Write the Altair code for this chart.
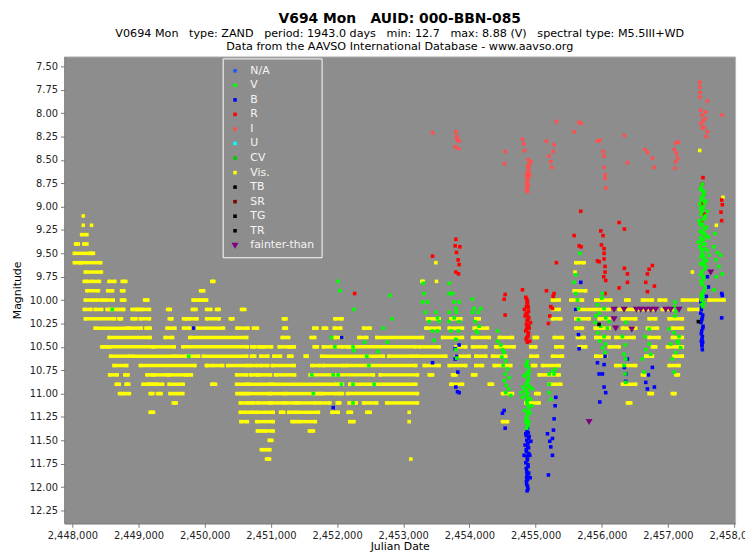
import altair as alt
import pandas as pd

NB = "\u00a0"

BANDS = ["N/A", "V", "B", "R", "I", "U", "CV", "Vis.", "TB", "SR", "TG", "TR", "fainter-than"]
COLORS = ["#2255ff", "#00ff00", "#0000ff", "#ff0000", "#ff5050", "#00ffff", "#00cc00",
          "#ffff00", "#000000", "#800000", "#000000", "#000000", "#800080"]
SQUARE = "M-0.9,-0.9H0.9V0.9H-0.9Z"
TRIANGLE_DOWN = "M-1.8,-1.3L1.8,-1.3L0,1.7Z"
SHAPES = [SQUARE] * 12 + [TRIANGLE_DOWN]

X_TICKS = [2448000, 2449000, 2450000, 2451000, 2452000, 2453000, 2454000,
           2455000, 2456000, 2457000, 2458000]
Y_TICKS = [7.50, 7.75, 8.00, 8.25, 8.50, 8.75, 9.00, 9.25, 9.50, 9.75, 10.00, 10.25,
           10.50, 10.75, 11.00, 11.25, 11.50, 11.75, 12.00, 12.25]

# Visual estimates: runs of consecutive observations (start JD, end JD) per magnitude
VIS_ROWS = [
    (8.4, [(2457480, 2457480)]),
    (8.9, [(2457832, 2457832)]),
    (9.1, [(2448165, 2448165)]),
    (9.2, [(2448165, 2448165), (2448290, 2448290), (2457732, 2457732)]),
    (9.3, [(2448140, 2448220)]),
    (9.4, [(2448050, 2448090), (2448175, 2448220)]),
    (9.5, [(2448030, 2448270), (2448280, 2448319)]),
    (9.6, [(2448030, 2448115), (2448135, 2448429), (2453493, 2453493), (2455607, 2455733)]),
    (9.7, [(2448195, 2448439), (2455597, 2455597), (2457369, 2457369)]),
    (9.8, [(2448180, 2448240), (2448294, 2448409), (2448553, 2448643), (2448753, 2448808),
           (2450108, 2450138), (2453282, 2453302), (2453503, 2453503)]),
    (9.9, [(2448220, 2448394), (2448534, 2448608), (2448743, 2448778), (2449939, 2449984),
           (2455582, 2455758)]),
    (10.0, [(2448195, 2448309), (2448354, 2448459), (2448494, 2448618), (2448743, 2448793),
            (2449092, 2449141), (2449824, 2449864), (2449899, 2449959), (2449989, 2450029),
            (2455255, 2455356), (2455532, 2455708), (2455909, 2456136), (2456362, 2456413),
            (2456614, 2456765), (2456866, 2456966), (2457218, 2457445), (2457621, 2457847)]),
    (10.1, [(2448180, 2448280), (2448344, 2448444), (2448524, 2448578), (2448603, 2448688),
            (2448733, 2448778), (2448902, 2448967), (2448982, 2449027), (2449052, 2449166),
            (2449440, 2449480), (2449814, 2449869), (2450029, 2450093), (2450178, 2450218),
            (2450557, 2450606), (2455255, 2455356), (2455607, 2456111), (2456262, 2456564),
            (2456624, 2456815), (2456916, 2457067), (2457319, 2457470)]),
    (10.2, [(2448195, 2448638), (2448703, 2448743), (2448902, 2448962), (2449027, 2449166),
            (2449465, 2449505), (2449680, 2449734), (2449764, 2449884), (2450029, 2450218),
            (2450387, 2450427), (2451189, 2451229), (2451967, 2452076), (2453367, 2453543),
            (2453720, 2453871), (2454097, 2454148), (2455255, 2455381), (2455607, 2455809),
            (2455960, 2456111), (2456312, 2456513), (2456715, 2456815), (2457017, 2457218)]),
    (10.3, [(2448344, 2448828), (2448862, 2449042), (2449112, 2449176), (2449431, 2449550),
            (2449680, 2449774), (2449874, 2450283), (2450487, 2450656), (2450736, 2450796),
            (2451194, 2451234), (2451648, 2451698), (2451792, 2451842), (2451957, 2452056),
            (2452400, 2452500), (2453342, 2453543), (2453694, 2453896), (2454072, 2454273),
            (2455607, 2455708), (2455899, 2456111), (2456312, 2456513), (2456690, 2456841),
            (2457067, 2457218)]),
    (10.4, [(2448553, 2449176), (2449401, 2449515), (2449774, 2450636), (2451170, 2451269),
            (2451608, 2451663), (2451967, 2452081), (2452330, 2452450), (2452600, 2453292),
            (2453594, 2453896), (2454047, 2454299), (2454450, 2454651), (2454978, 2455028),
            (2455280, 2455406), (2455632, 2455733), (2455909, 2456111), (2456211, 2456488),
            (2456715, 2456866), (2457067, 2457218)]),
    (10.5, [(2448444, 2448479), (2448514, 2448543), (2448563, 2449216), (2449231, 2449540),
            (2449670, 2450646), (2450711, 2450761), (2450816, 2450871), (2450895, 2451010),
            (2451125, 2451279), (2451294, 2451354), (2451653, 2451703), (2451792, 2452091),
            (2452141, 2452191), (2452216, 2453191), (2453241, 2453543), (2453794, 2453946),
            (2454047, 2454248), (2454399, 2454676), (2454928, 2455003), (2455305, 2455406),
            (2455658, 2455758), (2456111, 2456262), (2456765, 2456815), (2456992, 2457218)]),
    (10.6, [(2448578, 2448867), (2448912, 2449540), (2449580, 2449725), (2449759, 2449909),
            (2449979, 2450636), (2450706, 2450756), (2450846, 2450955), (2451045, 2451145),
            (2451269, 2451319), (2451518, 2451548), (2451767, 2452700), (2452780, 2453141),
            (2453191, 2453644), (2453795, 2453996), (2454097, 2454248), (2454349, 2454550),
            (2454928, 2455028), (2455255, 2455406), (2455909, 2456060), (2456665, 2456765),
            (2457092, 2457218)]),
    (10.7, [(2448628, 2448823), (2449027, 2449854), (2450024, 2450058), (2450108, 2450273),
            (2450347, 2450646), (2450686, 2450796), (2450846, 2450955), (2451020, 2451354),
            (2451618, 2451743), (2451792, 2452101), (2452141, 2453191), (2453317, 2453543),
            (2453694, 2453946), (2454097, 2454198), (2454374, 2454626), (2454953, 2455003),
            (2455104, 2455356), (2456211, 2456513), (2457017, 2457168)]),
    (10.8, [(2448563, 2448678), (2448793, 2448842), (2449126, 2449211), (2449236, 2449440),
            (2449465, 2449715), (2449734, 2449799), (2450482, 2450636), (2450696, 2450796),
            (2450821, 2450995), (2451070, 2451359), (2451593, 2452550), (2452650, 2453216),
            (2453392, 2453443), (2453745, 2453795), (2454047, 2454097), (2455053, 2455356),
            (2456614, 2456665), (2457118, 2457158)]),
    (10.9, [(2448663, 2448708), (2448813, 2448852), (2449067, 2449141), (2449151, 2449191),
            (2449211, 2449261), (2449276, 2449366), (2449460, 2449675), (2450108, 2450163),
            (2450482, 2450636), (2450666, 2450995), (2451025, 2451992), (2452032, 2452081),
            (2452191, 2453191), (2453720, 2453896), (2454299, 2454349), (2455205, 2455381),
            (2456312, 2456513)]),
    (11.0, [(2448713, 2448753), (2448788, 2448862), (2449176, 2449216), (2449286, 2449341),
            (2449475, 2449555), (2449600, 2449670), (2450487, 2450547), (2450577, 2450636),
            (2450661, 2450970), (2450995, 2451194), (2451229, 2451668), (2451698, 2451743),
            (2451772, 2451992), (2452032, 2452081), (2452156, 2453216), (2454500, 2454651),
            (2455003, 2455053), (2456715, 2456765), (2457067, 2457107)]),
    (11.1, [(2449525, 2449570), (2450537, 2450646), (2450686, 2450746), (2450796, 2450985),
            (2451005, 2451194), (2451224, 2451379), (2451409, 2451683), (2451733, 2451892),
            (2452002, 2452042), (2452181, 2452291), (2452400, 2452600), (2452750, 2453216),
            (2454852, 2455053), (2456388, 2456438)]),
    (11.2, [(2449176, 2449226), (2450537, 2450626), (2450676, 2450736), (2450786, 2451035),
            (2451145, 2451194), (2451269, 2451354), (2451404, 2451718), (2451922, 2452017),
            (2452166, 2452216), (2452450, 2452500), (2453090, 2453090)]),
    (11.3, [(2450547, 2450646), (2450786, 2451035), (2451319, 2451369), (2451419, 2451673),
            (2452191, 2452256), (2453090, 2453090), (2454500, 2454575)]),
    (11.4, [(2450796, 2450876), (2450910, 2451035), (2451583, 2451643)]),
    (11.5, [(2450975, 2451015)]),
    (11.6, [(2450856, 2450905), (2450935, 2450985)]),
    (11.7, [(2450935, 2450980), (2453115, 2453115)]),
]

I_POINTS = [
    (2453443, 8.21), (2453795, 8.20), (2453805, 8.25), (2453820, 8.29), (2453845, 8.30),
    (2453785, 8.36), (2453835, 8.38), (2453810, 8.27),
    (2454540, 8.41), (2454530, 8.54), (2454802, 8.28), (2454822, 8.33), (2454832, 8.40),
    (2454928, 8.52), (2454903, 8.55), (2454893, 8.60), (2454878, 8.64), (2454862, 8.67),
    (2454883, 8.71), (2454867, 8.75), (2454878, 8.78), (2454862, 8.82), (2454898, 8.59),
    (2454913, 8.66), (2454872, 8.69), (2454888, 8.62), (2454870, 8.80),
    (2454890, 8.50), (2454880, 8.57), (2454895, 8.68), (2454875, 8.73), (2454890, 8.77),
    (2454880, 8.84),
    (2455164, 8.30), (2455280, 8.34), (2455265, 8.41), (2455205, 8.46), (2455230, 8.52),
    (2455245, 8.58), (2455315, 8.09),
    (2455582, 8.20), (2455658, 8.10), (2455688, 8.11),
    (2455935, 8.30), (2455970, 8.29), (2456020, 8.41), (2456035, 8.46), (2456035, 8.58),
    (2456050, 8.66), (2456050, 8.70), (2456060, 8.80),
    (2456342, 8.24), (2456388, 8.53),
    (2456654, 8.39), (2456690, 8.42), (2456765, 8.48), (2456795, 8.58),
    (2457097, 8.39), (2457117, 8.32), (2457158, 8.31), (2457143, 8.48), (2457117, 8.52),
    (2457107, 8.59), (2457128, 8.43),
    (2457480, 7.67), (2457480, 7.72), (2457485, 7.78), (2457480, 7.83), (2457596, 7.87),
    (2457495, 7.97), (2457510, 8.02), (2457530, 8.08), (2457500, 8.11), (2457545, 8.15),
    (2457570, 7.99), (2457596, 8.20), (2457580, 8.25), (2457520, 8.16), (2457560, 8.06),
    (2457812, 8.02),
]

R_POINTS = [
    (2452266, 9.93),
    (2453443, 9.53), (2453795, 9.35), (2453785, 9.42), (2453856, 9.43), (2453805, 9.49),
    (2453830, 9.57), (2453845, 9.62), (2453795, 9.70), (2453835, 9.72),
    (2454540, 9.94), (2454525, 9.99), (2454540, 10.16),
    (2454802, 9.89), (2454852, 9.97), (2454878, 10.01), (2454862, 10.07), (2454893, 10.12),
    (2454842, 10.17), (2454883, 10.21), (2454862, 10.26), (2454903, 10.30), (2454852, 10.33),
    (2454888, 10.37), (2454867, 10.40), (2454913, 10.44), (2454832, 10.10), (2454923, 10.24),
    (2454872, 10.03), (2454857, 10.14), (2454898, 10.19), (2454878, 10.28), (2454893, 10.35),
    (2454857, 10.42), (2454880, 10.05), (2454870, 10.22),
    (2454865, 9.99), (2454890, 10.08), (2454875, 10.16), (2454895, 10.27), (2454865, 10.31),
    (2454885, 10.39), (2454875, 10.45),
    (2455164, 9.90), (2455280, 9.93), (2455265, 9.96), (2455230, 10.07), (2455255, 10.09),
    (2455215, 10.17), (2455194, 10.25), (2455315, 9.60),
    (2455582, 9.31), (2455658, 9.42), (2455688, 9.43), (2455683, 9.05),
    (2455935, 9.58), (2455960, 9.59), (2455985, 9.26), (2456020, 9.31), (2455995, 9.41),
    (2456035, 9.45), (2456035, 9.50), (2456035, 9.56), (2456050, 9.64), (2456050, 9.70),
    (2456030, 9.75), (2456060, 9.79), (2456050, 9.93),
    (2456262, 9.17), (2456342, 9.24), (2456342, 9.66), (2456388, 9.72), (2456388, 9.81),
    (2456262, 9.87),
    (2456765, 9.63), (2456715, 9.67), (2456690, 9.72), (2456665, 9.81), (2456690, 9.91),
    (2456795, 9.85),
    (2457530, 8.69), (2457520, 8.76), (2457540, 8.87), (2457525, 8.97), (2457545, 9.08),
    (2457515, 9.15),
    (2457812, 8.93), (2457822, 8.98), (2457802, 9.06), (2457812, 9.15),
]

B_POINTS = [
    (2449834, 10.30), (2452072, 10.40), (2451942, 11.15),
    (2453443, 10.67), (2453785, 10.52), (2453845, 10.48), (2453805, 10.60), (2453785, 10.63),
    (2453825, 10.77), (2453795, 10.93), (2453820, 10.98), (2453845, 10.99),
    (2454500, 11.21), (2454525, 11.18), (2454540, 11.37),
    (2454878, 11.37), (2454852, 11.43), (2454903, 11.46), (2454867, 11.50), (2454842, 11.55),
    (2454893, 11.58), (2454862, 11.62), (2454913, 11.66), (2454878, 11.69), (2454852, 11.74),
    (2454888, 11.78), (2454867, 11.83), (2454883, 11.88), (2454862, 11.94), (2454878, 11.99),
    (2454872, 12.04), (2454928, 11.51), (2454827, 11.66), (2454918, 11.90), (2454870, 11.40),
    (2454885, 11.53), (2454875, 11.71), (2454870, 11.86),
    (2454860, 11.45), (2454895, 11.48), (2454880, 11.57), (2454860, 11.60), (2454895, 11.64),
    (2454870, 11.67), (2454885, 11.76), (2454860, 11.80), (2454895, 11.85), (2454880, 11.92),
    (2454865, 11.97), (2454885, 12.02), (2454890, 11.42), (2454865, 11.90),
    (2455180, 11.43), (2455215, 11.51), (2455255, 11.48), (2455230, 11.57), (2455255, 11.66),
    (2455270, 11.39), (2455194, 11.87), (2455305, 11.04), (2455295, 11.13), (2455280, 11.27),
    (2455683, 9.81), (2455607, 10.10), (2455648, 10.37), (2455658, 10.52),
    (2455935, 10.67), (2455960, 10.79), (2456010, 10.79), (2456035, 10.93), (2456060, 10.99),
    (2456050, 10.60), (2456035, 10.69), (2455970, 11.09),
    (2456342, 10.72), (2456362, 10.79), (2456388, 10.63), (2456362, 10.87),
    (2456665, 10.88), (2456705, 10.80), (2456690, 10.95), (2456795, 10.93), (2456765, 10.72),
    (2457510, 10.07), (2457495, 10.14), (2457520, 10.19), (2457500, 10.24), (2457530, 10.28),
    (2457510, 10.33), (2457520, 10.39), (2457505, 10.44), (2457515, 10.49), (2457520, 10.53),
    (2457505, 10.10), (2457525, 10.16), (2457512, 10.21), (2457525, 10.30), (2457505, 10.36),
    (2457515, 10.42), (2457512, 10.47), (2457500, 10.02), (2457525, 10.45),
    (2457596, 9.75), (2457611, 9.86), (2457580, 9.96),
    (2457812, 9.93), (2457822, 9.95), (2457812, 10.19),
]

V_POINTS = [
    (2448603, 10.10), (2449759, 10.60),
    (2452017, 9.80), (2452042, 9.90), (2451917, 10.40), (2451967, 10.50), (2452241, 10.50),
    (2452256, 10.54), (2451643, 11.00), (2451618, 10.80), (2451942, 10.80), (2452017, 10.80),
    (2452066, 10.90), (2452241, 10.90), (2452241, 11.10), (2452256, 10.10),
    (2452420, 10.45), (2452450, 10.60), (2452480, 10.70), (2452560, 10.90), (2452620, 10.55),
    (2452700, 10.30), (2452760, 10.45), (2452800, 9.95), (2452830, 10.20),
    (2453302, 9.82), (2453317, 9.93), (2453292, 10.02), (2453367, 10.02), (2453332, 10.13),
    (2453493, 10.13), (2453392, 10.23), (2453543, 10.23), (2453443, 10.33), (2453518, 10.33),
    (2453468, 10.43), (2453518, 10.19),
    (2453694, 9.82), (2453694, 9.93), (2453745, 9.93), (2453770, 10.02), (2453845, 10.02),
    (2453795, 10.09), (2453694, 10.13), (2453805, 10.13), (2453770, 10.19), (2453694, 10.23),
    (2453845, 10.23), (2453720, 10.33), (2453835, 10.33), (2453795, 10.42), (2453795, 10.53),
    (2453810, 10.62),
    (2454047, 9.99), (2454072, 10.09), (2454173, 10.09), (2454047, 10.13), (2454138, 10.13),
    (2454087, 10.23), (2454148, 10.28), (2454107, 10.33), (2454122, 10.35),
    (2454424, 10.33), (2454424, 10.44), (2454475, 10.48), (2454500, 10.53), (2454525, 10.56),
    (2454490, 10.61), (2454550, 10.65), (2454510, 10.70), (2454575, 10.74), (2454540, 10.79),
    (2454601, 10.83), (2454525, 10.86), (2454560, 10.91), (2454590, 10.95), (2454550, 10.99),
    (2454626, 11.02),
    (2454878, 10.65), (2454852, 10.70), (2454903, 10.76), (2454827, 10.81), (2454893, 10.84),
    (2454862, 10.90), (2454918, 10.93), (2454842, 10.97), (2454883, 11.00), (2454802, 11.04),
    (2454928, 11.06), (2454867, 11.09), (2454898, 11.14), (2454832, 11.18), (2454913, 11.21),
    (2454872, 11.25), (2454852, 11.30), (2454888, 11.34), (2454867, 11.37), (2454782, 10.99),
    (2454953, 10.95), (2454812, 10.93), (2454943, 11.13), (2454875, 10.88), (2454880, 11.12),
    (2454860, 11.02), (2454890, 10.80),
    (2454865, 10.68), (2454895, 10.72), (2454870, 10.78), (2454885, 10.86), (2454895, 10.92),
    (2454865, 10.96), (2454890, 11.05), (2454870, 11.08), (2454895, 11.18), (2454875, 11.21),
    (2454860, 11.27), (2454895, 11.30), (2454880, 11.33),
    (2455205, 10.79), (2455280, 10.79), (2455255, 10.76), (2455205, 10.90), (2455205, 10.99),
    (2455230, 11.06), (2455295, 10.74),
    (2455668, 9.50), (2455607, 9.73), (2455582, 9.81), (2455607, 9.93), (2455632, 10.00),
    (2455648, 10.09), (2455648, 10.21),
    (2456010, 9.93), (2456000, 9.98), (2455935, 10.05), (2456035, 10.09), (2455960, 10.14),
    (2456060, 10.19), (2455899, 10.24), (2455985, 10.28), (2456085, 10.30), (2455935, 10.35),
    (2456035, 10.39), (2455970, 10.44), (2456060, 10.47), (2456010, 10.51), (2456050, 10.56),
    (2455909, 10.17), (2456111, 10.23),
    (2456362, 10.24), (2456312, 10.39), (2456352, 10.48), (2456337, 10.58), (2456362, 10.63),
    (2456337, 10.70), (2456352, 10.79), (2456362, 10.88),
    (2456715, 10.31), (2456654, 10.39), (2456715, 10.47), (2456665, 10.53), (2456740, 10.58),
    (2456614, 10.63), (2456639, 10.77),
    (2457107, 10.02), (2457097, 10.07), (2457117, 10.12), (2457107, 10.17),
    (2457017, 10.31), (2457092, 10.35), (2457168, 10.39), (2457143, 10.44), (2457042, 10.47),
    (2457193, 10.51), (2457117, 10.56), (2457067, 10.63), (2457092, 10.77), (2457158, 10.46),
    (2457520, 8.76), (2457495, 8.82), (2457545, 8.85), (2457510, 8.90), (2457570, 8.94),
    (2457480, 8.97), (2457530, 9.01), (2457596, 9.05), (2457500, 9.08), (2457555, 9.12),
    (2457470, 9.15), (2457520, 9.19), (2457580, 9.22), (2457490, 9.26), (2457545, 9.29),
    (2457611, 9.33), (2457510, 9.36), (2457560, 9.40), (2457480, 9.43), (2457596, 9.47),
    (2457520, 9.50), (2457550, 9.56), (2457490, 9.61), (2457570, 9.64), (2457510, 9.70),
    (2457540, 9.75), (2457500, 9.80), (2457560, 9.86), (2457520, 9.93), (2457510, 10.00),
    (2457530, 10.07), (2457621, 9.52), (2457460, 9.38), (2457535, 9.00), (2457525, 9.40),
    (2457505, 9.20), (2457540, 9.60),
    (2457500, 8.80), (2457525, 8.83), (2457540, 8.88), (2457505, 8.93), (2457555, 8.96),
    (2457490, 9.02), (2457515, 9.05), (2457565, 9.10), (2457530, 9.14), (2457485, 9.18),
    (2457550, 9.24), (2457515, 9.28), (2457575, 9.31), (2457495, 9.33), (2457535, 9.35),
    (2457505, 9.46), (2457560, 9.45), (2457530, 9.52), (2457500, 9.54), (2457585, 9.58),
    (2457525, 9.62), (2457555, 9.67), (2457495, 9.73), (2457535, 9.78), (2457515, 9.83),
    (2457545, 9.90), (2457505, 9.95), (2457525, 9.97), (2457540, 10.03), (2457515, 10.05),
    (2457711, 9.29), (2457696, 9.43), (2457747, 9.49), (2457797, 9.52), (2457722, 9.57),
    (2457772, 9.64), (2457822, 9.72), (2457696, 9.89), (2457732, 9.75),
]

FAINTER_POINTS = [
    (2455809, 11.30), (2456186, 10.10), (2456186, 10.20), (2456211, 10.30), (2456337, 10.10),
    (2456453, 10.31), (2456523, 10.10), (2456589, 10.10), (2456665, 10.10), (2456740, 10.10),
    (2456815, 10.10), (2456966, 10.10), (2457042, 10.10), (2457168, 10.10), (2457646, 9.70),
]

TB_POINTS = [(2455960, 10.26)]
TG_POINTS = [(2457460, 10.23)]

# ---- tables ----
rule_rows = []
point_rows = []
for mag, runs in VIS_ROWS:
    for a, b in runs:
        rule_rows.append({"jd": a, "jd2": b, "mag": mag})
        point_rows.append({"jd": a, "mag": mag, "band": "Vis."})
        if b != a:
            point_rows.append({"jd": b, "mag": mag, "band": "Vis."})

for band, pts in [("I", I_POINTS), ("R", R_POINTS), ("B", B_POINTS), ("V", V_POINTS),
                  ("fainter-than", FAINTER_POINTS), ("TB", TB_POINTS), ("TG", TG_POINTS)]:
    for jd, mag in pts:
        point_rows.append({"jd": jd, "mag": mag, "band": band})

rules_df = pd.DataFrame(rule_rows)
points_df = pd.DataFrame(point_rows)

FONT = "DejaVu Sans"

x_scale = alt.Scale(domain=[2447880, 2458015], nice=False, zero=False)
y_scale = alt.Scale(domain=[7.394, 12.388], reverse=True, nice=False, zero=False)

x_axis = alt.Axis(values=X_TICKS, format=",d", title="Julian Date", grid=False,
                  tickSize=4, labelPadding=3, titlePadding=0)
y_axis = alt.Axis(values=Y_TICKS, format=".2f", title="Magnitude", grid=False,
                  tickSize=4, labelPadding=3, titlePadding=7)

rules = alt.Chart(rules_df).mark_rule(color="#ffff00", strokeWidth=3.5).encode(
    x=alt.X("jd:Q", scale=x_scale, axis=x_axis),
    x2="jd2:Q",
    y=alt.Y("mag:Q", scale=y_scale, axis=y_axis),
)

points = alt.Chart(points_df).mark_point(filled=True, opacity=1, strokeWidth=0, size=16).encode(
    x=alt.X("jd:Q", scale=x_scale, axis=x_axis),
    y=alt.Y("mag:Q", scale=y_scale, axis=y_axis),
    color=alt.Color("band:N", title=None,
                    scale=alt.Scale(domain=BANDS, range=COLORS),
                    legend=alt.Legend(orient="none", legendX=160, legendY=2,
                                      strokeColor="#ffffff", padding=7,
                                      labelColor="#f4f4f4", labelFontSize=11,
                                      labelFont=FONT, rowPadding=2.7, symbolSize=16,
                                      labelOffset=10, symbolStrokeWidth=0)),
    shape=alt.Shape("band:N", title=None, scale=alt.Scale(domain=BANDS, range=SHAPES)),
)

chart = alt.layer(rules, points).properties(
    width=678,
    height=472,
    padding={"left": 57, "top": 46, "right": 10, "bottom": 28},
    autosize=alt.AutoSizeParams(type="none"),
    background="#ffffff",
    title=alt.TitleParams(
        text=f"V694 Mon{NB}{NB}{NB}AUID: 000-BBN-085",
        subtitle=[
            f"V0694 Mon{NB}{NB}{NB}type: ZAND{NB}{NB}{NB}period: 1943.0 days{NB}{NB}{NB}min: 12.7"
            f"{NB}{NB}{NB}max: 8.88 (V){NB}{NB}{NB}spectral type: M5.5III+WD",
            "Data from the AAVSO International Database - www.aavso.org",
        ],
        anchor="middle", font=FONT, fontSize=14, fontWeight="bold", color="#000000",
        subtitleFont=FONT, subtitleFontSize=11.3, subtitleColor="#000000",
        subtitlePadding=2, subtitleLineHeight=13, offset=4,
    ),
).configure_view(
    fill="#8d8d8d", stroke="#b5b5b5"
).configure_axis(
    labelFont=FONT, labelFontSize=10, labelColor="#222222",
    titleFont=FONT, titleFontSize=11, titleFontWeight="normal", titleColor="#000000",
    domainColor="#6a6a6a", tickColor="#7a7a7a",
)

chart.save("out.html", embed_options={"renderer": "svg", "actions": False})
